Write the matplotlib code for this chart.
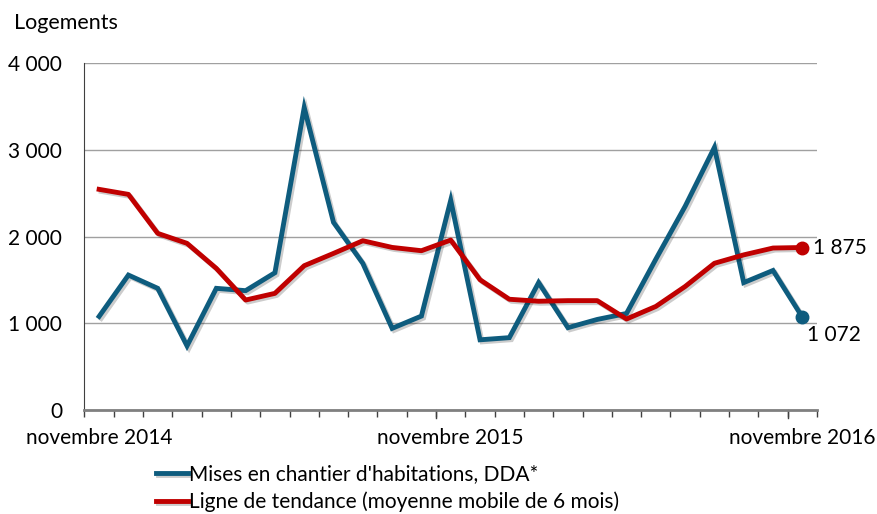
import numpy as np
import matplotlib.pyplot as plt
import matplotlib.patheffects as pe

plt.rcParams['font.family'] = ['Lato', 'DejaVu Sans']

mois = ['nov14', 'dec14', 'jan15', 'fev15', 'mar15', 'avr15', 'mai15', 'jun15', 'jul15',
        'aou15', 'sep15', 'oct15', 'nov15', 'dec15', 'jan16', 'fev16', 'mar16', 'avr16',
        'mai16', 'jun16', 'jul16', 'aou16', 'sep16', 'oct16', 'nov16']
mises = [1080, 1557, 1404, 740, 1404, 1377, 1584, 3490, 2165, 1692, 942, 1084, 2420,
         810, 835, 1470, 950, 1045, 1114, 1740, 2350, 3030, 1470, 1610, 1072]
tendance = [2546, 2488, 2038, 1923, 1634, 1269, 1346, 1665, 1807, 1953, 1876, 1838, 1961,
            1503, 1278, 1255, 1262, 1262, 1050, 1195, 1425, 1693, 1790, 1869, 1875]
xlabels = ['novembre 2014', 'novembre 2015', 'novembre 2016']

blue = '#0e5c7e'
red = '#c00000'

fig = plt.figure(figsize=(8.78, 5.14), dpi=100)
ax = fig.add_axes([0.0962, 0.2023, 0.8343, 0.6745])

x = np.arange(len(mois))
shadow = [pe.SimpleLineShadow(offset=(1.5, -1.5), alpha=0.2), pe.Normal()]
l1, = ax.plot(x, mises, color=blue, lw=3.5, solid_joinstyle='miter', path_effects=shadow,
              label="Mises en chantier d'habitations, DDA*", zorder=3)
l2, = ax.plot(x, tendance, color=red, lw=3.5, path_effects=shadow,
              label='Ligne de tendance (moyenne mobile de 6 mois)', zorder=4)
ax.plot(x[-1], mises[-1], 'o', color=blue, ms=9, zorder=5)
ax.plot(x[-1], tendance[-1], 'o', color=red, ms=9, zorder=5)
ax.text(x[-1] + 0.35, tendance[-1], '1 875', fontsize=15, va='center', ha='left')
ax.text(x[-1] + 0.15, mises[-1] - 90, '1 072', fontsize=15, va='top', ha='left')

ax.set_xlim(-0.5, len(mois) - 0.5)
ax.set_ylim(0, 4000)
ax.set_yticks([0, 1000, 2000, 3000, 4000])
ax.set_yticklabels(['0', '1 000', '2 000', '3 000', '4 000'], fontsize=15)
ax.tick_params(axis='y', length=0, pad=16)
ax.grid(axis='y', color='#a0a0a0', lw=1)
ax.set_axisbelow(True)

bounds = np.arange(len(mois) + 1) - 0.5
ax.set_xticks(bounds, minor=True)
ax.tick_params(axis='x', which='minor', length=5, color='#404040', width=1)
ax.set_xticks([0, 12, 24])
ax.set_xticklabels(xlabels, fontsize=15)
ax.tick_params(axis='x', which='major', length=0, pad=13)
for b in [11.5, 23.5]:
    ax.plot([b, b], [0, -0.022], transform=ax.get_xaxis_transform(), clip_on=False,
            color='#404040', lw=1)

for s in ['top', 'right']:
    ax.spines[s].set_visible(False)
ax.spines['left'].set_color('#404040')
ax.spines['bottom'].set_color('#808080')
ax.spines['bottom'].set_linewidth(2)

fig.text(0.016, 0.975, 'Logements', fontsize=15.5, va='top', ha='left')

fig.legend(handles=[l1, l2], loc='upper left', bbox_to_anchor=(0.178, 0.097),
           frameon=False, fontsize=15, handlelength=1.5, handletextpad=0.05,
           labelspacing=0.35, borderaxespad=0, borderpad=0)

fig.savefig('out.png', dpi=100)
